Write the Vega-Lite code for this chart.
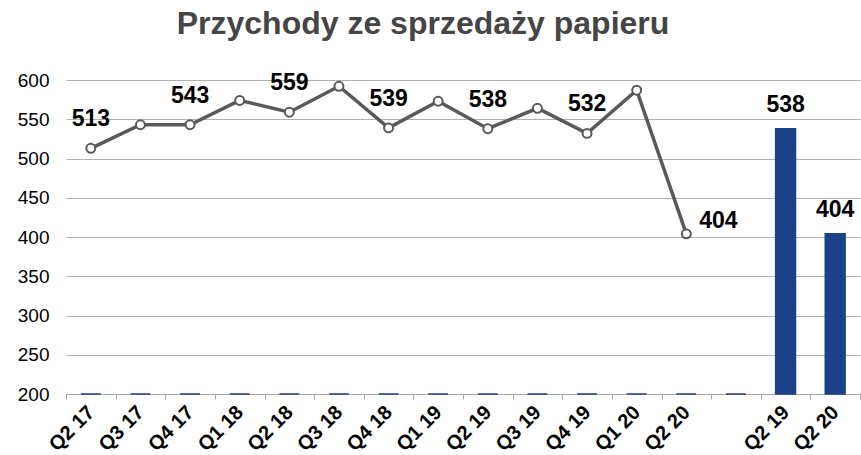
{
  "$schema": "https://vega.github.io/schema/vega-lite/v6.json",
  "width": 861,
  "height": 455,
  "autosize": {"type": "fit", "contains": "padding"},
  "padding": {"left": 17, "right": 0, "top": 8, "bottom": 0},
  "background": "white",
  "config": {
    "font": "Liberation Sans",
    "view": {"stroke": null},
    "axisX": {
      "labelAngle": -45,
      "labelAlign": "right",
      "labelBaseline": "middle",
      "labelFont": "Liberation Sans",
      "labelFontWeight": "bold",
      "labelFontSize": 20,
      "labelColor": "#000000",
      "labelPadding": 10,
      "labelOverlap": false,
      "labelLimit": 300,
      "tickBand": "extent",
      "tickColor": "#a6a6a6",
      "tickSize": 5,
      "domainColor": "#a6a6a6",
      "grid": false
    },
    "axisY": {
      "labelFont": "Liberation Sans",
      "labelFontSize": 19,
      "labelColor": "#000000",
      "labelPadding": 17,
      "labelOverlap": false,
      "tickCount": 8,
      "ticks": false,
      "domain": false,
      "gridColor": "#b0b0b0",
      "gridWidth": 1
    }
  },
  "title": {
    "text": "Przychody ze sprzedaży papieru",
    "font": "Liberation Sans",
    "fontSize": 32,
    "fontWeight": "bold",
    "color": "#454545",
    "anchor": "middle",
    "dx": -40,
    "offset": 30
  },
  "data": {
    "values": [
      {"i": 0, "q": "Q2 17", "rev": 513, "bar": 0},
      {"i": 1, "q": "Q3 17", "rev": 543, "bar": 0},
      {"i": 2, "q": "Q4 17", "rev": 543, "bar": 0},
      {"i": 3, "q": "Q1 18", "rev": 574, "bar": 0},
      {"i": 4, "q": "Q2 18", "rev": 559, "bar": 0},
      {"i": 5, "q": "Q3 18", "rev": 592, "bar": 0},
      {"i": 6, "q": "Q4 18", "rev": 539, "bar": 0},
      {"i": 7, "q": "Q1 19", "rev": 573, "bar": 0},
      {"i": 8, "q": "Q2 19", "rev": 538, "bar": 0},
      {"i": 9, "q": "Q3 19", "rev": 564, "bar": 0},
      {"i": 10, "q": "Q4 19", "rev": 532, "bar": 0},
      {"i": 11, "q": "Q1 20", "rev": 587, "bar": 0},
      {"i": 12, "q": "Q2 20", "rev": 404, "bar": 0},
      {"i": 13, "q": "", "rev": null, "bar": 0},
      {"i": 14, "q": "Q2 19", "rev": null, "bar": 538},
      {"i": 15, "q": "Q2 20", "rev": null, "bar": 404}
    ]
  },
  "encoding": {
    "x": {
      "field": "i",
      "type": "ordinal",
      "scale": {"paddingInner": 0, "paddingOuter": 0},
      "axis": {
        "title": null,
        "labelExpr": "['Q2 17','Q3 17','Q4 17','Q1 18','Q2 18','Q3 18','Q4 18','Q1 19','Q2 19','Q3 19','Q4 19','Q1 20','Q2 20','','Q2 19','Q2 20'][datum.value]"
      }
    }
  },
  "layer": [
    {
      "mark": {"type": "bar", "color": "#1b4186", "stroke": "#1b4186", "strokeWidth": 1.5, "width": {"band": 0.4}},
      "encoding": {
        "y": {
          "field": "bar",
          "type": "quantitative",
          "scale": {"domain": [200, 600], "zero": false, "clamp": true, "nice": false},
          "axis": {"title": null}
        }
      }
    },
    {
      "mark": {"type": "line", "color": "#595959", "strokeWidth": 3.5},
      "encoding": {
        "y": {"field": "rev", "type": "quantitative", "axis": {"title": null}}
      }
    },
    {
      "mark": {"type": "point", "filled": true, "fill": "white", "stroke": "#595959", "strokeWidth": 2, "size": 80, "opacity": 1},
      "encoding": {
        "y": {"field": "rev", "type": "quantitative", "axis": {"title": null}}
      }
    },
    {
      "transform": [{"filter": {"field": "i", "oneOf": [0, 2, 4, 6, 8, 10]}}],
      "mark": {"type": "text", "font": "Liberation Sans", "fontWeight": "bold", "fontSize": 23, "color": "#000000", "dy": -29},
      "encoding": {
        "y": {"field": "rev", "type": "quantitative", "axis": {"title": null}},
        "text": {"field": "rev", "type": "quantitative"}
      }
    },
    {
      "transform": [{"filter": {"field": "i", "oneOf": [12]}}],
      "mark": {"type": "text", "font": "Liberation Sans", "fontWeight": "bold", "fontSize": 23, "color": "#000000", "dx": 32, "dy": -13},
      "encoding": {
        "y": {"field": "rev", "type": "quantitative", "axis": {"title": null}},
        "text": {"field": "rev", "type": "quantitative"}
      }
    },
    {
      "transform": [{"filter": {"field": "i", "oneOf": [14, 15]}}],
      "mark": {"type": "text", "font": "Liberation Sans", "fontWeight": "bold", "fontSize": 23, "color": "#000000", "dy": -24},
      "encoding": {
        "y": {"field": "bar", "type": "quantitative", "axis": {"title": null}},
        "text": {"field": "bar", "type": "quantitative"}
      }
    }
  ]
}
